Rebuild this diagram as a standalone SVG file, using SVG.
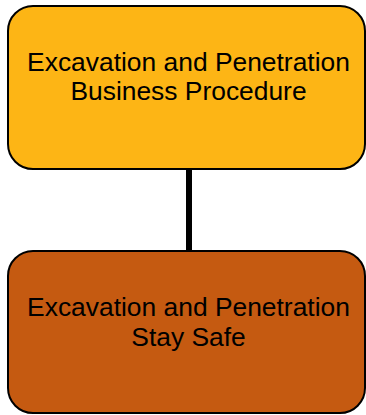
<svg xmlns="http://www.w3.org/2000/svg" width="366" height="415" viewBox="0 0 366 415">
  <style>
    .box { stroke: #000; stroke-width: 2; }
    .label { font-family: "Liberation Sans", Arial, sans-serif; font-size: 26.4px; fill: #000; text-anchor: middle; }
    .link { stroke: #000; stroke-width: 6; fill: none; }
  </style>
  <rect width="366" height="415" fill="#fff"/>
  <g id="connectors">
    <line class="link" x1="189" y1="169" x2="189" y2="252"/>
  </g>
  <g id="business-procedure">
    <rect class="box" x="8" y="6" width="357" height="163" rx="25" fill="#FDB515"/>
    <text class="label" x="188.5" y="71">Excavation and Penetration</text>
    <text class="label" x="188.5" y="100">Business Procedure</text>
  </g>
  <g id="stay-safe">
    <rect class="box" x="8" y="251" width="357" height="162" rx="25" fill="#C55A11"/>
    <text class="label" x="188.5" y="316">Excavation and Penetration</text>
    <text class="label" x="188.5" y="346">Stay Safe</text>
  </g>
</svg>
